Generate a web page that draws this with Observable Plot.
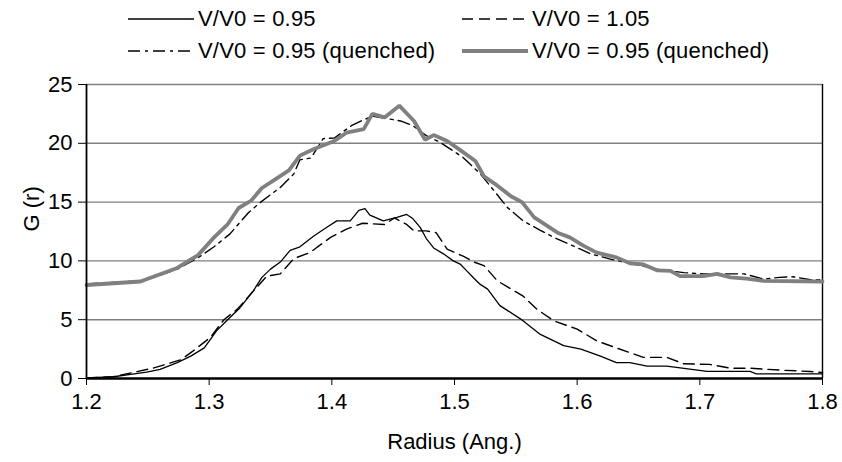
<!DOCTYPE html>
<html><head><meta charset="utf-8">
<script src="https://cdn.jsdelivr.net/npm/d3@7"></script>
<script src="https://cdn.jsdelivr.net/npm/@observablehq/plot@0.6"></script>
<style>
body{margin:0;background:#fff;font-family:"Liberation Sans",Arial,sans-serif;color:#000}
#wrap{width:842px;height:462px;position:relative;overflow:hidden;background:#fff}
#legend{position:relative;height:66px;width:842px}
.item{position:absolute;display:flex;align-items:center;font-size:22px;height:26px;white-space:nowrap;letter-spacing:0.2px}
.item svg{margin-right:4px}
</style></head><body>
<div id="wrap"><div id="legend"></div><div id="chart"></div></div>
<script>
// Series labels
const seriesLabels = ["V/V0 = 0.95", "V/V0 = 1.05", "V/V0 = 0.95 (quenched)", "V/V0 = 0.95 (quenched)"];
const xTicks = [1.2, 1.3, 1.4, 1.5, 1.6, 1.7, 1.8];
const yTicks = [0, 5, 10, 15, 20, 25];

// V/V0 = 0.95 (solid)
const rA = [1.200,1.222,1.236,1.249,1.260,1.274,1.285,1.296,1.306,1.315,1.325,1.336,1.343,1.350,1.358,1.366,1.374,1.385,1.395,1.404,1.415,1.422,1.427,1.431,1.442,1.453,1.461,1.466,1.472,1.477,1.483,1.491,1.499,1.505,1.510,1.516,1.521,1.527,1.537,1.554,1.570,1.589,1.603,1.619,1.632,1.643,1.657,1.673,1.706,1.741,1.746,1.800];
const gA = [0.05,0.15,0.35,0.55,0.78,1.35,1.9,2.6,4.05,5.0,6.0,7.45,8.6,9.3,9.9,10.9,11.2,12.1,12.8,13.4,13.4,14.3,14.45,13.9,13.4,13.7,13.95,13.6,12.85,11.9,11.1,10.6,10.0,9.7,9.15,8.5,8.0,7.6,6.2,5.05,3.75,2.8,2.5,1.9,1.35,1.35,1.05,1.05,0.6,0.6,0.4,0.4];

// V/V0 = 1.05 (dashed)
const rB = [1.200,1.222,1.255,1.277,1.287,1.301,1.312,1.323,1.334,1.347,1.358,1.369,1.382,1.399,1.412,1.425,1.443,1.451,1.461,1.467,1.477,1.485,1.494,1.507,1.516,1.524,1.535,1.556,1.567,1.581,1.600,1.616,1.632,1.654,1.673,1.687,1.708,1.725,1.741,1.768,1.790,1.800];
const gB = [0.05,0.15,0.9,1.6,2.35,3.5,5.0,5.9,7.2,8.7,8.9,10.2,10.7,12.0,12.7,13.2,13.1,13.65,13.1,12.55,12.55,12.4,11.0,10.4,9.9,9.6,8.3,7.0,5.9,4.9,4.2,3.2,2.6,1.8,1.8,1.25,1.2,0.87,0.87,0.7,0.6,0.5];

// V/V0 = 0.95 (quenched), dash-dot
const rC = [1.200,1.244,1.255,1.274,1.290,1.304,1.317,1.332,1.342,1.358,1.369,1.374,1.383,1.393,1.402,1.416,1.424,1.433,1.445,1.456,1.466,1.477,1.488,1.507,1.521,1.532,1.543,1.556,1.570,1.581,1.594,1.611,1.627,1.643,1.665,1.687,1.703,1.736,1.752,1.765,1.776,1.790,1.800];
const gC = [8.05,8.3,8.6,9.3,10.2,11.2,12.3,14.1,15.0,16.25,17.4,18.6,18.75,20.4,20.45,21.5,21.9,22.3,22.1,21.9,21.5,20.65,20.1,18.8,17.4,16.0,14.55,13.4,12.6,12.0,11.4,10.6,10.15,9.8,9.3,9.0,8.9,8.9,8.45,8.6,8.65,8.4,8.4];

// V/V0 = 0.95 (quenched), thick grey
const rD = [1.200,1.244,1.255,1.274,1.291,1.304,1.315,1.324,1.334,1.343,1.352,1.365,1.374,1.385,1.402,1.412,1.426,1.433,1.443,1.455,1.467,1.476,1.483,1.494,1.505,1.517,1.524,1.535,1.546,1.555,1.565,1.584,1.594,1.605,1.616,1.632,1.643,1.654,1.665,1.676,1.684,1.703,1.714,1.725,1.738,1.752,1.800];
const gD = [7.95,8.25,8.67,9.4,10.5,12.0,13.1,14.5,15.1,16.2,16.8,17.7,18.95,19.5,20.2,20.9,21.2,22.5,22.2,23.2,21.9,20.3,20.7,20.2,19.4,18.5,17.2,16.4,15.5,15.0,13.7,12.4,12.0,11.3,10.7,10.3,9.8,9.7,9.2,9.15,8.7,8.7,8.9,8.6,8.5,8.3,8.25];

const styles = [
  {stroke: "#000", strokeWidth: 1.3, dash: null},
  {stroke: "#000", strokeWidth: 1.4, dash: "11,6"},
  {stroke: "#000", strokeWidth: 1.4, dash: "12,5,3,5"},
  {stroke: "#808080", strokeWidth: 3.8, dash: null}
];
const toRows = (r, g) => r.map((x, i) => ({r: x, g: g[i]}));
const sets = [toRows(rA, gA), toRows(rB, gB), toRows(rC, gC), toRows(rD, gD)];

// legend
const legend = document.getElementById("legend");
const pos = [[128, 6], [462, 6], [128, 38], [462, 38]];
seriesLabels.forEach((lab, i) => {
  const s = styles[i];
  const div = document.createElement("div");
  div.className = "item";
  div.style.left = pos[i][0] + "px";
  div.style.top = pos[i][1] + "px";
  div.innerHTML = `<svg width="66" height="10"><line x1="0" x2="66" y1="5" y2="5" stroke="${s.stroke}" stroke-width="${s.strokeWidth}" ${s.dash ? `stroke-dasharray="${s.dash}"` : ""}/></svg><span>${lab}</span>`;
  legend.appendChild(div);
});

const chart = Plot.plot({
  width: 842,
  height: 396,
  marginTop: 18,
  marginBottom: 84,
  marginLeft: 86,
  marginRight: 20,
  style: {fontFamily: '"Liberation Sans", Arial, sans-serif', fontSize: "22px", color: "#000", background: "#fff"},
  x: {domain: [1.2, 1.8]},
  y: {domain: [0, 25]},
  marks: [
    Plot.ruleY(yTicks.filter(d => d > 0), {stroke: "#808080", strokeWidth: 1.4}),
    Plot.ruleX([1.8], {stroke: "#000", strokeWidth: 1.4}),
    ...sets.map((rows, i) => Plot.line(rows, {x: "r", y: "g", stroke: styles[i].stroke, strokeWidth: styles[i].strokeWidth, strokeDasharray: styles[i].dash, strokeLinejoin: "miter"})),
    Plot.axisY({ticks: yTicks, tickSize: 8, tickPadding: 6, label: null, fontSize: 22}),
    Plot.axisX({ticks: xTicks, tickSize: 7, tickPadding: 8, tickFormat: d => d.toFixed(1), label: null, fontSize: 22}),
    Plot.ruleX([1.2], {stroke: "#000", strokeWidth: 1.8}),
    Plot.ruleY([0], {stroke: "#000", strokeWidth: 2.4}),
    Plot.text(["Radius (Ang.)"], {frameAnchor: "bottom", dy: 70, fontSize: 22, text: d => d}),
    Plot.text(["G (r)"], {frameAnchor: "left", dx: -55, rotate: -90, fontSize: 22, text: d => d})
  ]
});
document.getElementById("chart").appendChild(chart);
</script>
</body></html>
